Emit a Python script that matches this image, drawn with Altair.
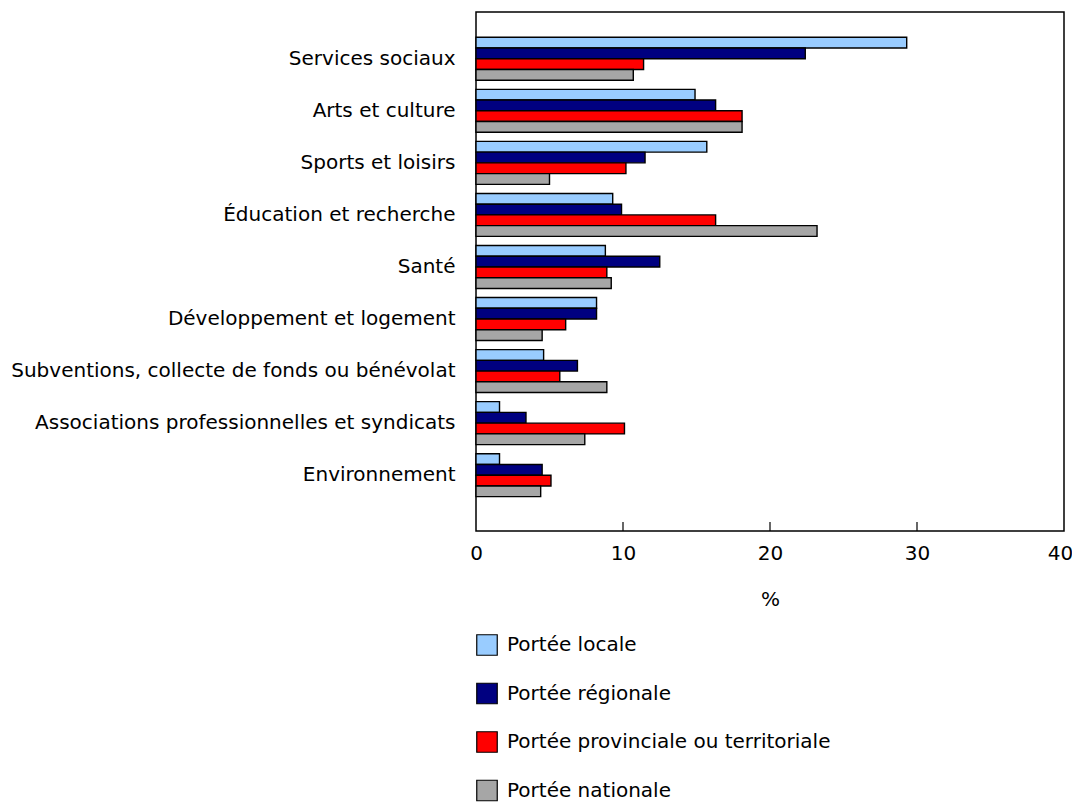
import altair as alt
import pandas as pd

categories = [
    "Services sociaux",
    "Arts et culture",
    "Sports et loisirs",
    "Éducation et recherche",
    "Santé",
    "Développement et logement",
    "Subventions, collecte de fonds ou bénévolat",
    "Associations professionnelles et syndicats",
    "Environnement",
]
series = [
    "Portée locale",
    "Portée régionale",
    "Portée provinciale ou territoriale",
    "Portée nationale",
]
locale = [29.3, 14.9, 15.7, 9.3, 8.8, 8.2, 4.6, 1.6, 1.6]
regionale = [22.4, 16.3, 11.5, 9.9, 12.5, 8.2, 6.9, 3.4, 4.5]
provinciale = [11.4, 18.1, 10.2, 16.3, 8.9, 6.1, 5.7, 10.1, 5.1]
nationale = [10.7, 18.1, 5.0, 23.2, 9.2, 4.5, 8.9, 7.4, 4.4]
colors = ["#99CCFF", "#000080", "#FF0000", "#A6A6A6"]
x_ticks = [0, 10, 20, 30, 40]
inner_ticks = [10, 20, 30]

rows = []
for s, vals in zip(series, [locale, regionale, provinciale, nationale]):
    for c, v in zip(categories, vals):
        rows.append({"cat": c, "serie": s, "val": v})
df = pd.DataFrame(rows)
ticks_df = pd.DataFrame({"t": inner_ticks})

W, H = 588, 519
FONT = "DejaVu Sans"
FS = 20

bars = alt.Chart(df).mark_bar(stroke="black", strokeWidth=1.4).encode(
    y=alt.Y("cat:N", sort=categories, title=None,
            scale=alt.Scale(paddingInner=0.175, paddingOuter=0.5725, align=0.424),
            axis=alt.Axis(ticks=False, domain=False, labelFontSize=FS,
                          labelPadding=21, labelColor="black", labelLimit=600,
                          labelFont=FONT)),
    yOffset=alt.YOffset("serie:N", sort=series,
                        scale=alt.Scale(paddingInner=0, paddingOuter=0)),
    x=alt.X("val:Q", title="%",
            scale=alt.Scale(domain=[0, 40], nice=False),
            axis=alt.Axis(values=x_ticks, grid=False, ticks=False, domain=False,
                          labelFontSize=FS, labelPadding=12, labelColor="black",
                          labelFont=FONT, titleFont=FONT, titleFontSize=FS,
                          titleFontWeight="normal", titleColor="black",
                          labelOffset=alt.expr("datum.value == 40 ? -4 : 0"),
                          titlePadding=26, labelFlush=False)),
    color=alt.Color("serie:N", sort=series, title=None,
                    scale=alt.Scale(domain=series, range=colors),
                    legend=alt.Legend(orient="none", legendX=0, legendY=622,
                                      direction="vertical", symbolType="square",
                                      symbolSize=420, symbolStrokeColor="black",
                                      symbolStrokeWidth=1.2, symbolOpacity=1,
                                      labelFontSize=FS, labelFont=FONT,
                                      labelColor="black", labelOffset=9,
                                      rowPadding=22.5, labelLimit=600, padding=0)),
)

tick_rules = alt.Chart(ticks_df).mark_rule(color="black", strokeWidth=1.2).encode(
    x=alt.X("t:Q"),
    y=alt.value(H),
    y2=alt.value(H - 9),
)

chart = alt.layer(bars, tick_rules).properties(
    width=W, height=H,
    background="white",
    autosize=alt.AutoSizeParams(type="none"),
    padding={"left": 468, "top": 4, "right": 8, "bottom": 272},
).configure_view(stroke="black", strokeWidth=1.5)

chart.save("out.html", embed_options={"renderer": "svg", "actions": False})
